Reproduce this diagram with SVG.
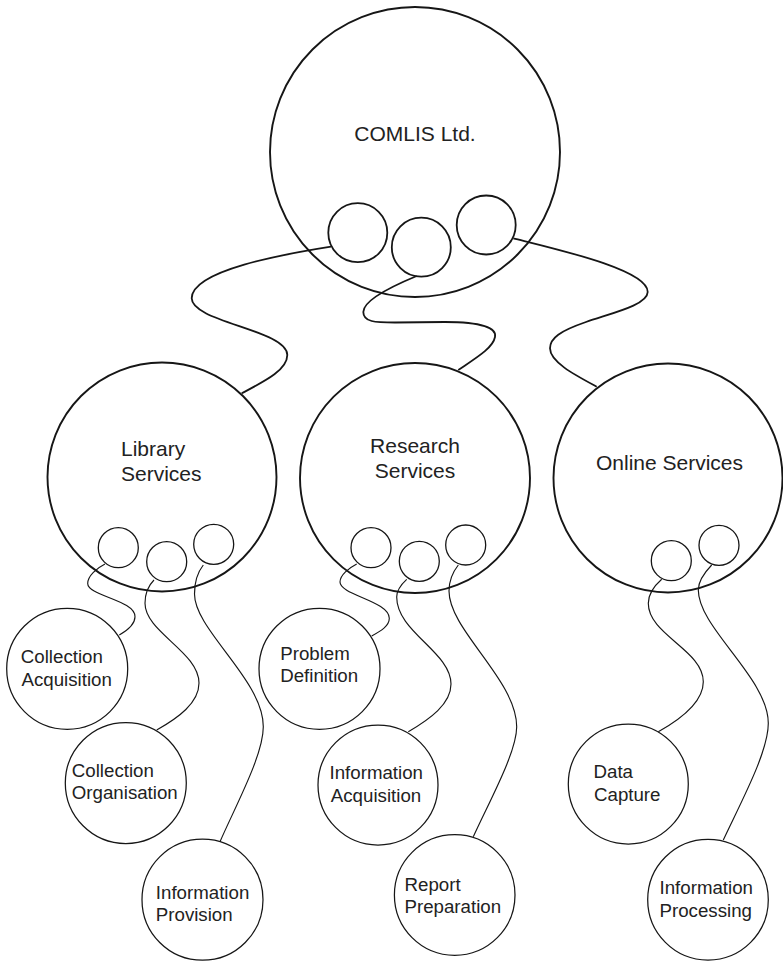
<svg xmlns="http://www.w3.org/2000/svg" width="783" height="963" viewBox="0 0 783 963">
  <style>
    .big { fill: #fff; stroke: #161616; stroke-width: 1.9; }
    .port1 { fill: #fff; stroke: #161616; stroke-width: 1.8; }
    .port2 { fill: none; stroke: #161616; stroke-width: 1.3; }
    .leaf { fill: #fff; stroke: #161616; stroke-width: 1.25; }
    .wire1 { fill: none; stroke: #161616; stroke-width: 1.8; }
    .wire2 { fill: none; stroke: #161616; stroke-width: 1.15; }
    text { font-family: "Liberation Sans", Arial, sans-serif; fill: #222; }
    .t1 { font-size: 21px; }
    .t2 { font-size: 18.7px; }
    .mid { text-anchor: middle; }
  </style>

  <rect width="783" height="963" fill="#fff"/>

  <!-- second-level nodes (drawn first so parents' ports overlap cleanly) -->
  <g id="library-services">
    <circle class="big" cx="162" cy="477" r="114.5"/>
    <text class="t1" x="121" y="456">Library</text>
    <text class="t1" x="121" y="481">Services</text>
    <circle class="port2" cx="118.3" cy="547.7" r="20"/>
    <circle class="port2" cx="166.7" cy="561.7" r="20"/>
    <circle class="port2" cx="213.7" cy="544.3" r="20"/>
  </g>

  <g id="research-services">
    <circle class="big" cx="415" cy="478" r="115"/>
    <text class="t1 mid" x="415" y="453">Research</text>
    <text class="t1 mid" x="415" y="478">Services</text>
    <circle class="port2" cx="371" cy="547.7" r="20"/>
    <circle class="port2" cx="419.3" cy="561.3" r="20"/>
    <circle class="port2" cx="465.7" cy="545" r="20"/>
  </g>

  <g id="online-services">
    <circle class="big" cx="668" cy="478" r="114.5"/>
    <text class="t1 mid" x="669.5" y="470">Online Services</text>
    <circle class="port2" cx="671.3" cy="560.7" r="20"/>
    <circle class="port2" cx="719" cy="545.3" r="20"/>
  </g>

  <!-- root node -->
  <g id="comlis">
    <circle class="big" cx="415" cy="152" r="145"/>
    <text class="t1 mid" x="415" y="141">COMLIS Ltd.</text>
    <circle class="port1" cx="357.8" cy="232.7" r="29.5"/>
    <circle class="port1" cx="421.3" cy="247.2" r="29.5"/>
    <circle class="port1" cx="486.2" cy="225" r="29.5"/>
  </g>

  <!-- leaf nodes -->
  <g id="collection-acquisition">
    <circle class="leaf" cx="67.2" cy="668.8" r="60.5"/>
    <text class="t2" x="20.8" y="663.3">Collection</text>
    <text class="t2" x="21.5" y="686">Acquisition</text>
  </g>
  <g id="collection-organisation">
    <circle class="leaf" cx="125.8" cy="783" r="60.5"/>
    <text class="t2" x="71.8" y="776.7">Collection</text>
    <text class="t2" x="71.8" y="799.3">Organisation</text>
  </g>
  <g id="information-provision">
    <circle class="leaf" cx="202.5" cy="899.7" r="60.5"/>
    <text class="t2" x="155.8" y="899.3">Information</text>
    <text class="t2" x="155.8" y="920.7">Provision</text>
  </g>
  <g id="problem-definition">
    <circle class="leaf" cx="319.5" cy="668.8" r="60.5"/>
    <text class="t2" x="280.2" y="660">Problem</text>
    <text class="t2" x="280.2" y="681.7">Definition</text>
  </g>
  <g id="information-acquisition">
    <circle class="leaf" cx="378" cy="785" r="60"/>
    <text class="t2" x="329.5" y="779.3">Information</text>
    <text class="t2" x="330.8" y="801.7">Acquisition</text>
  </g>
  <g id="report-preparation">
    <circle class="leaf" cx="454.7" cy="895" r="60.3"/>
    <text class="t2" x="404.5" y="890.7">Report</text>
    <text class="t2" x="404.5" y="913.3">Preparation</text>
  </g>
  <g id="data-capture">
    <circle class="leaf" cx="628.3" cy="784" r="60"/>
    <text class="t2" x="593.5" y="778.3">Data</text>
    <text class="t2" x="594" y="800.7">Capture</text>
  </g>
  <g id="information-processing">
    <circle class="leaf" cx="708" cy="899.7" r="60.3"/>
    <text class="t2" x="659.5" y="894">Information</text>
    <text class="t2" x="659.5" y="916.7">Processing</text>
  </g>

  <!-- connectors -->
  <g id="connectors">
    <!-- root to services -->
    <path class="wire1" d="M331,246.7 C 285,254 192,270 191.7,298.3 C 191.5,322 287.3,330 287.3,355 C 287.3,370 265,381 241.7,393.3"/>
    <path class="wire1" d="M416.7,276 C 395,285 363.3,300 363.3,312 C 363.3,322 375,322.5 395,322.5 L 445,322 C 482,322 497,328 495,337 C 493,348 476,358 458.3,370"/>
    <path class="wire1" d="M513.3,238.3 C 560,250 648,270 647.7,292 C 647.5,305 612,313 586,322 C 560,331 550,338 550,348.3 C 550,362 575,375 596.7,386.7"/>

    <!-- library services to its activities -->
    <path class="wire2" d="M105,564 C 97,568 87.7,576 87.7,583.5 C 87.7,596 135,600 135,616.7 C 135,624 128,630 119.3,635"/>
    <path class="wire2" d="M154,580 C 148,586 145,595 145,603.3 C 145,632 199,652 199,683 C 199,703 178,718 156.7,730"/>
    <path class="wire2" d="M203.3,565 C 197,573 194.5,584 194.5,594 C 194.5,630 263.3,680 263.3,726.7 C 263.3,755 236,805 220,841.7"/>

    <!-- research services to its activities -->
    <path class="wire2" d="M356.7,564 C 349,568 340,575 340,582 C 340,595 389.3,601 389.3,618.3 C 389.3,626 381,631 371.7,636"/>
    <path class="wire2" d="M406.7,579.3 C 400.5,585 396.7,590 396.7,597 C 396.7,632 451,652 451,684 C 451,704 430,719 408.3,731.7"/>
    <path class="wire2" d="M458.3,565 C 452,573 449,582 449,591 C 449,630 516.7,680 516.7,726.7 C 516.7,752 490,800 473.3,836.7"/>

    <!-- online services to its activities -->
    <path class="wire2" d="M661.7,579.3 C 653,587 648.3,595 648.3,603.3 C 648.3,635 703.3,650 703.3,681.7 C 703.3,702 681,719 658.3,731.7"/>
    <path class="wire2" d="M711.7,565 C 704,573 698.3,581 698.3,590 C 698.3,628 768.3,678 768.3,723.3 C 768.3,752 741,802 723.3,840"/>
  </g>
</svg>
